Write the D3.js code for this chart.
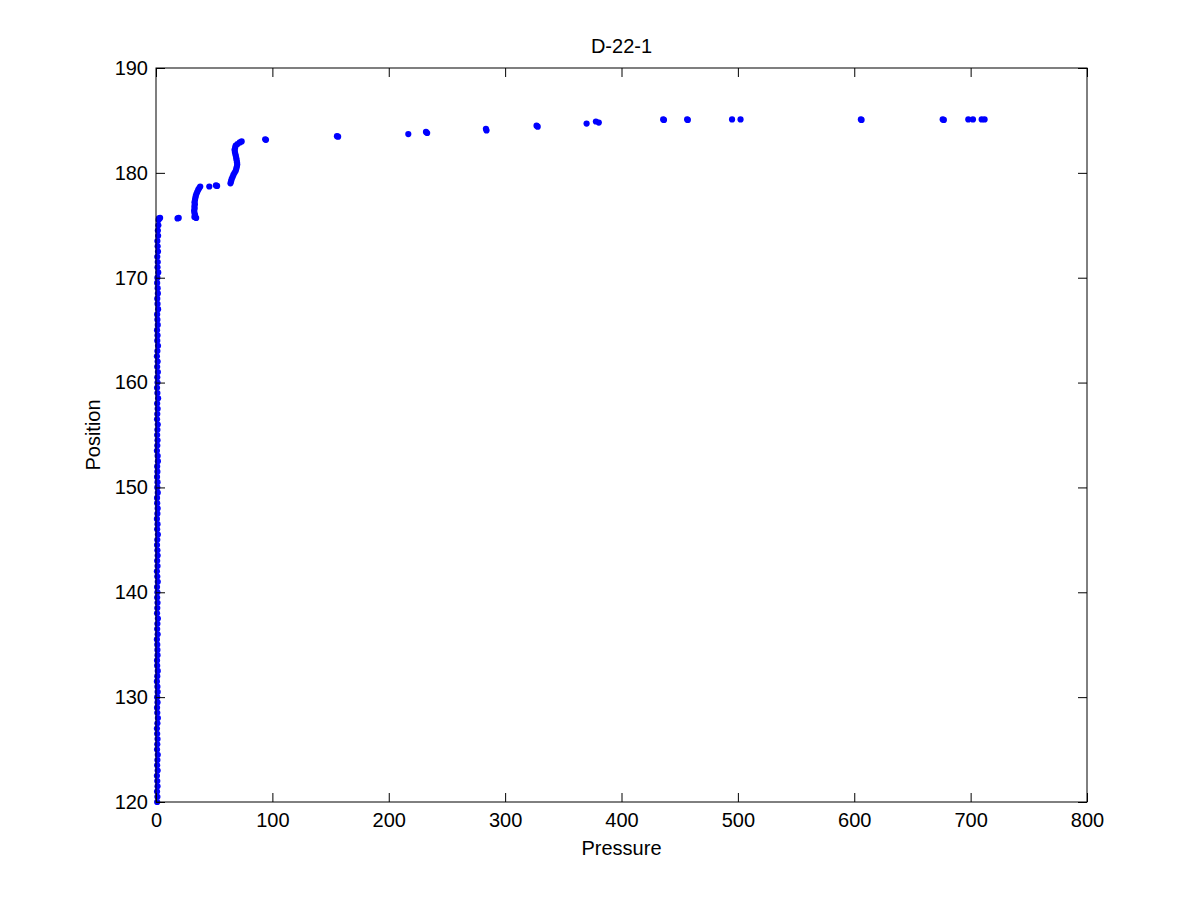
<!DOCTYPE html>
<html>
<head>
<meta charset="utf-8">
<script src="https://cdn.jsdelivr.net/npm/d3@7"></script>
<style>
  body { margin: 0; background: #fff; }
  text { font-family: Arial, "Liberation Sans", sans-serif; }
</style>
</head>
<body>
<script>
/* vertical column of readings at near-zero pressure */
var columnPosition = [
  120.0,120.5,121.0,121.5,122.0,122.5,123.0,123.5,124.0,124.5,
  125.0,125.5,126.0,126.5,127.0,127.5,128.0,128.5,129.0,129.5,
  130.0,130.5,131.0,131.5,132.0,132.5,133.0,133.5,134.0,134.5,
  135.0,135.5,136.0,136.5,137.0,137.5,138.0,138.5,139.0,139.5,
  140.0,140.5,141.0,141.5,142.0,142.5,143.0,143.5,144.0,144.5,
  145.0,145.5,146.0,146.5,147.0,147.5,148.0,148.5,149.0,149.5,
  150.0,150.5,151.0,151.5,152.0,152.5,153.0,153.5,154.0,154.5,
  155.0,155.5,156.0,156.5,157.0,157.5,158.0,158.5,159.0,159.5,
  160.0,160.5,161.0,161.5,162.0,162.5,163.0,163.5,164.0,164.5,
  165.0,165.5,166.0,166.5,167.0,167.5,168.0,168.5,169.0,169.5,
  170.0,170.5,171.0,171.5,172.0,172.5,173.0,173.5,174.0,174.5,
  175.0,175.5
];
var columnPressure = [
  1.0,1.2,0.9,1.3,1.1,0.8,1.4,1.0,1.2,1.5,
  0.9,1.1,1.3,1.0,0.8,1.2,1.6,1.1,0.9,1.3,
  1.0,1.4,1.2,0.8,1.1,1.5,1.0,0.9,1.3,1.2,
  1.1,0.8,1.4,1.0,1.2,1.6,0.9,1.1,1.3,1.0,
  1.2,0.9,1.5,1.1,0.8,1.3,1.0,1.4,1.2,0.9,
  1.1,1.6,1.0,1.3,0.8,1.2,1.4,1.0,0.9,1.5,
  1.1,1.3,0.9,1.2,1.0,1.6,1.4,0.8,1.1,1.3,
  1.0,1.2,1.5,0.9,1.1,1.4,1.0,1.8,1.2,0.9,
  1.3,1.1,1.6,1.0,1.4,0.8,1.2,1.7,1.1,1.3,
  0.9,1.5,1.2,1.0,1.8,1.3,1.1,1.6,1.4,1.0,
  1.2,1.9,1.3,1.5,1.1,1.7,1.4,1.2,1.8,1.6,
  2.0,2.2
];

/* remaining readings */
var pressure = [
  2.5,3.5,18.5,19.5,
  34.5,33.0,33.5,33.0,32.8,33.2,33.0,33.4,33.1,33.5,33.8,34.2,34.8,35.5,36.3,37.2,38.0,
  45.8,51.5,52.5,
  64.0,64.5,65.0,65.8,66.5,67.5,68.5,69.0,69.5,69.8,69.6,69.3,69.0,68.6,68.2,67.8,67.5,68.0,68.5,70.0,72.0,73.6,
  93.8,94.5,155.5,156.5,216.8,232.0,233.0,283.5,284.0,327.0,328.0,370.0,378.0,380.5,
  435.8,436.5,456.4,457.0,495.0,502.3,605.7,606.3,676.0,677.0,698.0,702.0,709.5,712.0
];
var position = [
  175.65,175.7,175.65,175.7,
  175.7,175.8,176.0,176.2,176.4,176.6,176.8,177.0,177.2,177.4,177.6,177.8,178.0,178.2,178.4,178.55,178.7,
  178.7,178.8,178.75,
  179.0,179.2,179.4,179.6,179.8,180.0,180.2,180.4,180.6,180.8,181.0,181.2,181.4,181.6,181.8,182.0,182.2,182.4,182.6,182.75,182.9,183.0,
  183.2,183.15,183.5,183.45,183.7,183.9,183.8,184.2,184.05,184.5,184.4,184.7,184.9,184.8,
  185.1,185.05,185.1,185.05,185.1,185.1,185.1,185.05,185.1,185.05,185.1,185.1,185.1,185.1
];

var xTicks = [0, 100, 200, 300, 400, 500, 600, 700, 800],
    yTicks = [120, 130, 140, 150, 160, 170, 180, 190];

/* plot box in pixels */
var width = 1201, height = 901,
    boxLeft = 156, boxRight = 1087,
    boxTop = 68, boxBottom = 802,
    tickLen = 9;

var svg = d3.select('body').append('svg')
    .attr('width', width)
    .attr('height', height)
    .style('font', '20px Arial, "Liberation Sans", sans-serif');

var x = d3.scaleLinear().domain([0, 800]).range([boxLeft, boxRight]);
var y = d3.scaleLinear().domain([120, 190]).range([boxBottom, boxTop]);

var points = columnPressure.map((p, i) => [p, columnPosition[i]])
    .concat(pressure.map((p, i) => [p, position[i]]));

svg.append('g').selectAll('circle').data(points).enter().append('circle')
    .attr('cx', d => x(d[0]))
    .attr('cy', d => y(d[1]))
    .attr('r', 3.1)
    .attr('fill', '#0000ff');

/* box axes, ticks pointing inward on all four sides */
function styleAxis(g) {
    g.select('.domain').remove();
    g.selectAll('line').attr('stroke', '#000');
    g.selectAll('text').attr('fill', '#000').style('font-size', '20px');
}

svg.append('g')
    .attr('transform', 'translate(0,' + boxBottom + ')')
    .call(d3.axisBottom(x).tickValues(xTicks).tickSizeInner(-tickLen).tickPadding(11))
    .call(styleAxis);
svg.append('g')
    .attr('transform', 'translate(0,' + boxTop + ')')
    .call(d3.axisTop(x).tickValues(xTicks).tickSizeInner(-tickLen).tickFormat(''))
    .call(styleAxis);
svg.append('g')
    .attr('transform', 'translate(' + boxLeft + ',0)')
    .call(d3.axisLeft(y).tickValues(yTicks).tickSizeInner(-tickLen).tickPadding(8))
    .call(styleAxis);
svg.append('g')
    .attr('transform', 'translate(' + boxRight + ',0)')
    .call(d3.axisRight(y).tickValues(yTicks).tickSizeInner(-tickLen).tickFormat(''))
    .call(styleAxis);

svg.append('rect')
    .attr('x', boxLeft).attr('y', boxTop)
    .attr('width', boxRight - boxLeft).attr('height', boxBottom - boxTop)
    .attr('fill', 'none').attr('stroke', '#000').attr('stroke-width', 1);

svg.append('text')
    .attr('x', (boxLeft + boxRight) / 2).attr('y', 53)
    .attr('text-anchor', 'middle')
    .text('D-22-1');
svg.append('text')
    .attr('x', (boxLeft + boxRight) / 2).attr('y', 855)
    .attr('text-anchor', 'middle')
    .text('Pressure');
svg.append('text')
    .attr('transform', 'translate(100,' + (boxTop + boxBottom) / 2 + ') rotate(-90)')
    .attr('text-anchor', 'middle')
    .text('Position');
</script>
</body>
</html>
